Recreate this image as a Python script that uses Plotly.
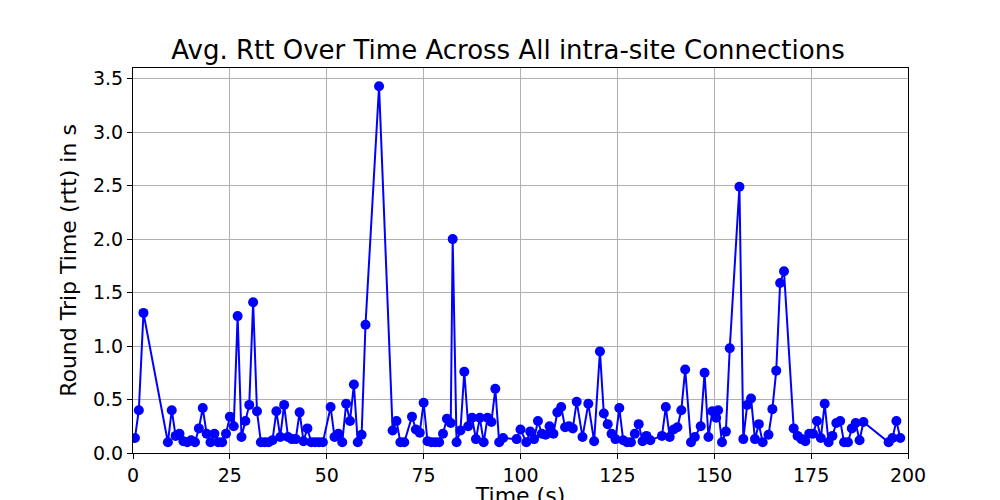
import plotly.graph_objects as go

time_s = [0.5, 1.5, 2.7, 9, 10, 11, 12, 13, 14, 15, 16, 17, 18, 19, 20, 21, 22, 23, 24, 25,
          26, 27, 28, 29, 30, 31, 32, 33, 34, 35, 36, 37, 38, 39, 40, 41, 42, 43, 44, 45,
          46, 47, 48, 49, 51, 52, 53, 54, 55, 56, 57, 58, 59, 60, 63.5, 67, 68, 69, 70, 72,
          73, 74, 75, 76, 77, 78, 79, 80, 81, 82, 82.5, 83.5, 84.5, 85.5, 86.5, 87.5, 88.5,
          89.5, 90.5, 91.5, 92.5, 93.5, 94.5, 95.5, 99, 100, 101.5, 102.5, 103.5, 104.5,
          105.5, 106.5, 107.5, 108.5, 109.5, 110.5, 111.5, 112.5, 113.5, 114.5, 116, 117.5,
          119, 120.5, 121.5, 122.5, 123.5, 124.5, 125.5, 126.5, 127.5, 128.5, 129.5, 130.5,
          131.5, 132.5, 133.5, 136.5, 137.5, 138.5, 139.5, 140.5, 141.5, 142.5, 144, 145,
          146.5, 147.5, 148.5, 149.5, 150.5, 151, 152, 153, 154, 156.5, 157.5, 158.5, 159.5,
          160.5, 161.5, 162.5, 164, 165, 166, 167, 168, 170.5, 171.5, 172.5, 173.5, 174.5,
          175.5, 176.5, 177.5, 178.5, 179.5, 180.5, 181.5, 182.5, 183.5, 184.5, 185.5, 186.5,
          187.5, 188.5, 195, 196, 197, 198]
rtt_s = [0.14, 0.40, 1.31, 0.10, 0.40, 0.16, 0.18, 0.11, 0.10, 0.12, 0.10, 0.23, 0.42, 0.18,
         0.10, 0.18, 0.10, 0.10, 0.18, 0.34, 0.25, 1.28, 0.15, 0.30, 0.45, 1.41, 0.39, 0.10,
         0.10, 0.10, 0.12, 0.39, 0.15, 0.45, 0.15, 0.13, 0.13, 0.38, 0.11, 0.23, 0.10, 0.10,
         0.10, 0.10, 0.43, 0.15, 0.18, 0.10, 0.46, 0.30, 0.64, 0.10, 0.17, 1.20, 3.43, 0.21,
         0.30, 0.10, 0.10, 0.34, 0.22, 0.19, 0.47, 0.11, 0.10, 0.10, 0.10, 0.18, 0.32, 0.28,
         2.00, 0.10, 0.21, 0.76, 0.25, 0.33, 0.13, 0.33, 0.10, 0.33, 0.29, 0.60, 0.10, 0.14,
         0.13, 0.22, 0.10, 0.20, 0.13, 0.30, 0.18, 0.17, 0.25, 0.18, 0.38, 0.43, 0.24, 0.25,
         0.23, 0.48, 0.15, 0.46, 0.11, 0.95, 0.37, 0.27, 0.18, 0.13, 0.42, 0.12, 0.10, 0.10,
         0.18, 0.27, 0.11, 0.16, 0.12, 0.16, 0.43, 0.15, 0.22, 0.24, 0.40, 0.78, 0.10, 0.15,
         0.25, 0.75, 0.15, 0.39, 0.33, 0.40, 0.10, 0.20, 0.98, 2.49, 0.13, 0.45, 0.51, 0.13,
         0.27, 0.10, 0.17, 0.41, 0.77, 1.59, 1.70, 0.23, 0.16, 0.13, 0.11, 0.18, 0.18, 0.30,
         0.14, 0.46, 0.10, 0.16, 0.28, 0.30, 0.10, 0.10, 0.23, 0.28, 0.12, 0.29, 0.10, 0.14,
         0.30, 0.14]

fig = go.Figure(go.Scatter(
    x=time_s, y=rtt_s, mode='lines+markers',
    line=dict(color='blue', width=2),
    marker=dict(color='blue', size=10),
))

axis_style = dict(showline=True, linecolor='black', linewidth=1, mirror=True,
                  ticks='outside', ticklen=5, tickcolor='black', automargin=False,
                  showgrid=True, gridcolor='#b0b0b0', gridwidth=1, zeroline=False,
                  tickfont=dict(size=19, color='black'))

fig.update_layout(
    width=1000, height=500,
    paper_bgcolor='white', plot_bgcolor='white',
    font=dict(family='DejaVu Sans', color='black'),
    title=dict(text='Avg. Rtt Over Time Across All intra-site Connections',
               x=0.5, xanchor='center', y=0.916, yanchor='middle', font=dict(size=26)),
    margin=dict(l=125, r=100, t=60, b=55, autoexpand=False),
    showlegend=False,
    xaxis=dict(range=[0, 200], dtick=25, title=dict(text='Time (s)', font=dict(size=22), standoff=6),
               **axis_style),
    yaxis=dict(range=[0, 3.6], dtick=0.5, tickformat='.1f',
               title=dict(text='Round Trip Time (rtt) in s', font=dict(size=22), standoff=10),
               **axis_style),
)

fig.write_html("out.html")
